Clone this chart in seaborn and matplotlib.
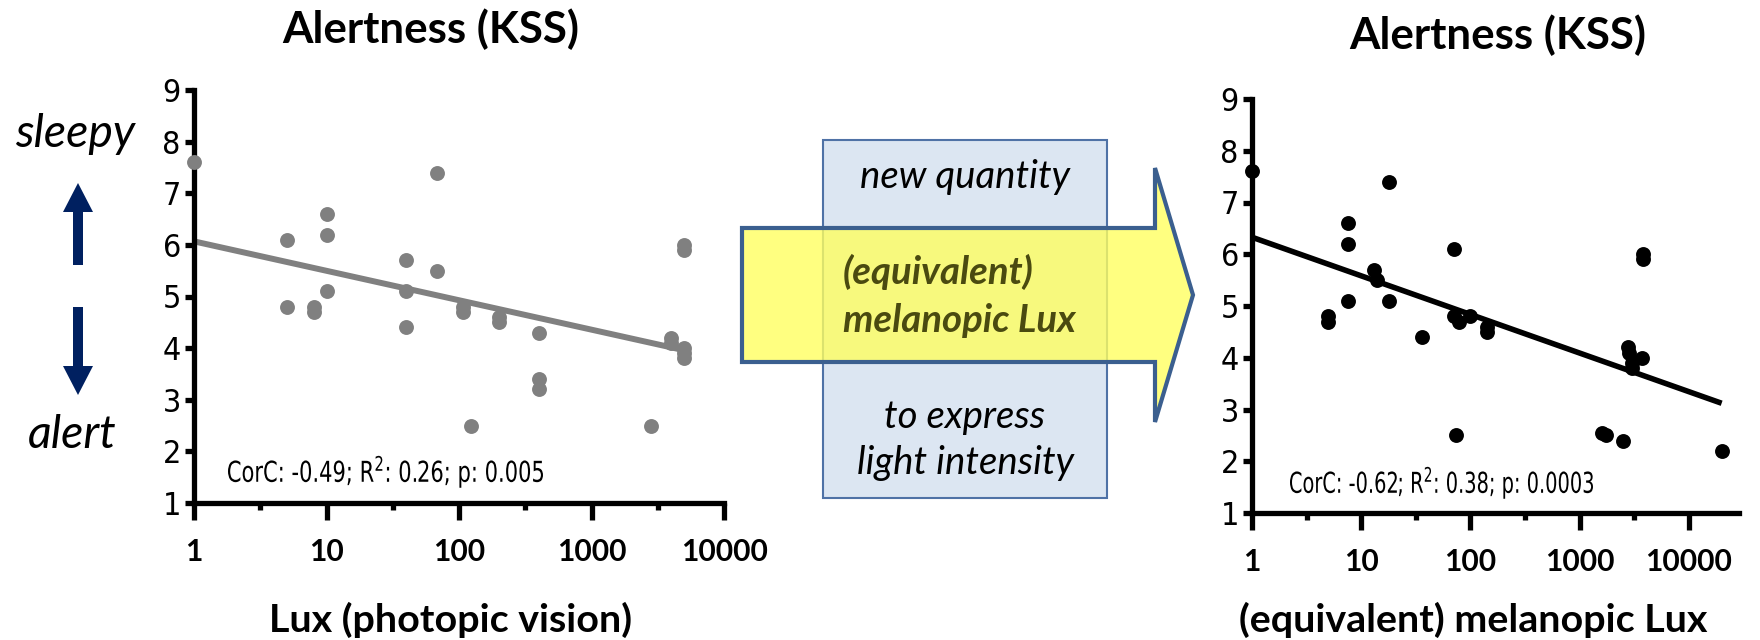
import matplotlib
matplotlib.use("Agg")
import matplotlib.pyplot as plt
from matplotlib.patches import Polygon, Rectangle, PathPatch
from matplotlib.textpath import TextPath
from matplotlib.font_manager import FontProperties
from matplotlib.transforms import Affine2D
from matplotlib.ticker import FixedLocator, NullFormatter
import seaborn as sns
import pandas as pd

# Data
photopic_lux = [1, 5, 5, 8, 8, 10, 10, 10, 40, 40, 40, 68, 68, 108, 108, 123,
                200, 200, 400, 400, 400, 2830, 4000, 4000, 5000, 5000, 5000, 5000, 5000]
kss_photopic = [7.6, 6.1, 4.8, 4.8, 4.7, 6.6, 6.2, 5.1, 5.7, 5.1, 4.4, 7.4, 5.5, 4.8, 4.7, 2.5,
                4.6, 4.5, 4.3, 3.4, 3.2, 2.5, 4.2, 4.1, 6.0, 5.9, 4.0, 3.9, 3.8]

melanopic_lux = [1, 5, 5, 7.5, 7.5, 7.5, 13, 14, 18, 18, 36, 71, 71, 74, 79, 99, 141, 141,
                 1600, 1760, 2500, 2800, 2850, 3000, 3050, 3750, 3800, 3800, 20000]
kss_melanopic = [7.6, 4.8, 4.7, 6.6, 6.2, 5.1, 5.7, 5.5, 7.4, 5.1, 4.4, 6.1, 4.8, 2.5, 4.7, 4.8, 4.6, 4.5,
                 2.55, 2.5, 2.4, 4.2, 4.1, 3.9, 3.8, 4.0, 6.0, 5.9, 2.2]

lux_ticks = [1, 10, 100, 1000, 10000]
lux_tick_labels = ["1", "10", "100", "1000", "10000"]
kss_ticks = [1, 2, 3, 4, 5, 6, 7, 8, 9]

stats_left = "CorC: -0.49; R$^2$: 0.26; p: 0.005"
stats_right = "CorC: -0.62; R$^2$: 0.38; p: 0.0003"

left_df = pd.DataFrame({"lux": photopic_lux, "kss": kss_photopic})
right_df = pd.DataFrame({"lux": melanopic_lux, "kss": kss_melanopic})

sns.set_style("ticks")
# narrow sans for the numbers (GraphPad style)
plt.rcParams["font.family"] = ["Liberation Sans Narrow", "DejaVu Sans"]
plt.rcParams["font.stretch"] = "condensed"
plt.rcParams["mathtext.fontset"] = "dejavusans"
for key in ["text.color", "axes.edgecolor", "axes.labelcolor", "xtick.color", "ytick.color"]:
    plt.rcParams[key] = "black"

W, H = 1760, 640
fig = plt.figure(figsize=(W / 100, H / 100), dpi=100)


def px(x, y):
    # pixel position (from top-left) -> figure fraction
    return (x / W, 1 - y / H)


def fit_width(txt, target):
    # rescale a text so its rendered width matches the reference width in pixels
    bb = txt.get_window_extent(renderer=fig.canvas.get_renderer())
    txt.set_fontsize(txt.get_fontsize() * target / bb.width)
    return txt.get_fontsize()


def narrow_text(s, x, y, width, cap=21):
    # tall, horizontally squeezed text (like Arial Narrow) drawn as a path
    prop = FontProperties(family="DejaVu Sans", stretch="condensed")
    tp = TextPath((0, 0), s, size=1, prop=prop)
    ext = tp.get_extents()
    em = cap / 0.73
    sx = width / ext.width
    tr = Affine2D().translate(-ext.x0, 0).scale(sx, em).translate(x, H - y)
    fig.add_artist(PathPatch(tp, transform=tr, facecolor="black", lw=0))


def style_axis(ax, xmax):
    ax.set_xscale("log")
    ax.set_xlim(1, xmax)
    ax.set_ylim(1, 9)
    sns.despine(ax=ax)
    for s in ["left", "bottom"]:
        ax.spines[s].set_linewidth(3.8)
        ax.spines[s].set_color("black")
        ax.spines[s].set_capstyle("projecting")
    ax.xaxis.set_major_locator(FixedLocator(lux_ticks))
    minors = [10 ** (k + 0.5) for k in range(5) if 10 ** (k + 0.5) < xmax]
    ax.xaxis.set_minor_locator(FixedLocator(minors))
    ax.xaxis.set_minor_formatter(NullFormatter())
    ax.set_yticks(kss_ticks)
    ax.tick_params(axis="x", which="major", length=12, width=3.8, pad=13, color="black")
    ax.tick_params(axis="x", which="minor", length=5, width=3.8, color="black")
    ax.tick_params(axis="y", length=6.5, width=3.8, pad=3, labelsize=23, color="black",
                   labelcolor="black")
    ax.set_xlabel("")
    ax.set_ylabel("")


# left panel: photopic lux
ax1 = fig.add_axes([194 / W, 1 - 503 / H, 530 / W, 413 / H])
sns.regplot(data=left_df, x="lux", y="kss", logx=True, ci=None, ax=ax1, color="#808080",
            scatter_kws={"s": 115, "clip_on": False, "linewidths": 0, "alpha": 1, "zorder": 3},
            line_kws={"lw": 4.3, "solid_capstyle": "butt"})
style_axis(ax1, 10000)

# right panel: melanopic lux
ax2 = fig.add_axes([1252 / W, 1 - 513 / H, 487 / W, 414 / H])
sns.regplot(data=right_df, x="lux", y="kss", logx=True, ci=None, ax=ax2, color="black",
            scatter_kws={"s": 115, "clip_on": False, "linewidths": 0, "alpha": 1, "zorder": 3},
            line_kws={"lw": 4, "solid_capstyle": "butt"})
style_axis(ax2, 10 ** 4.46)

lato = dict(fontfamily="Lato", fontstretch="normal", color="black")

# x tick labels sized so "1000" is ~70 px wide
probe = fig.text(0, 0, "1000", fontweight="bold", fontsize=20, **lato)
tick_size = fit_width(probe, 70)
probe.remove()
for ax in (ax1, ax2):
    ax.set_xticklabels(lux_tick_labels, fontweight="bold", fontsize=tick_size, **lato)

# titles
t1 = ax1.set_title("Alertness (KSS)", fontweight="bold", fontsize=30,
                   x=(431 - 194) / 530, pad=34, **lato)
title_size = fit_width(t1, 297)
ax2.set_title("Alertness (KSS)", fontweight="bold", fontsize=title_size,
              x=(1498 - 1252) / 487, pad=36, **lato)

# fit statistics
narrow_text(stats_left, 228, 482, 315)
narrow_text(stats_right, 1290, 493, 303)

# axis titles
xl = fig.text(*px(451, 632), "Lux (photopic vision)", ha="center", va="baseline",
              fontweight="bold", fontsize=26, **lato)
xlabel_size = fit_width(xl, 363)
fig.text(*px(1473, 632), "(equivalent) melanopic Lux", ha="center", va="baseline",
         fontweight="bold", fontsize=xlabel_size, **lato)

# sleepy / alert side labels with arrows
sl = fig.text(*px(75, 147), "sleepy", ha="center", va="baseline", fontstyle="italic",
              fontsize=30, **lato)
side_size = fit_width(sl, 120)
fig.text(*px(72, 448), "alert", ha="center", va="baseline", fontstyle="italic",
         fontsize=side_size, **lato)
navy = "#002060"
up = [(73, 265), (73, 212), (63, 212), (78, 183), (93, 212), (83, 212), (83, 265)]
down = [(73, 307), (73, 366), (63, 366), (78, 395), (93, 366), (83, 366), (83, 307)]
for shape in (up, down):
    fig.patches.append(Polygon([px(*p) for p in shape], closed=True, transform=fig.transFigure,
                               facecolor=navy, edgecolor="none"))

# central box and arrow
x0, y0 = px(823, 498)
x1, y1 = px(1107, 140)
fig.patches.append(Rectangle((x0, y0), x1 - x0, y1 - y0, transform=fig.transFigure,
                             facecolor="#dce6f2", edgecolor="#4f72a6", lw=1.5, zorder=1))
arrow_pts = [(742, 228), (1155, 228), (1155, 168), (1193, 295), (1155, 422), (1155, 362), (742, 362)]
fig.patches.append(Polygon([px(*p) for p in arrow_pts], closed=True, transform=fig.transFigure,
                           facecolor="#ffff60", alpha=0.8, edgecolor="none", zorder=2))
fig.patches.append(Polygon([px(*p) for p in arrow_pts], closed=True, transform=fig.transFigure,
                           facecolor="none", edgecolor="#3b5f8f", lw=3, joinstyle="miter", zorder=3))

nq = fig.text(*px(965, 177), "new quantity", ha="center", va="center", fontstyle="italic",
              fontsize=26, **lato)
box_size = fit_width(nq, 210)
box_txt = dict(fontstyle="italic", fontsize=box_size, fontfamily="Lato", fontstretch="normal")
olive = "#4a4a10"
fig.text(*px(843, 272), "(equivalent)", ha="left", va="center", fontweight="bold",
         color=olive, **box_txt)
fig.text(*px(843, 320), "melanopic Lux", ha="left", va="center", fontweight="bold",
         color=olive, **box_txt)
fig.text(*px(965, 417), "to express", ha="center", va="center", color="black", **box_txt)
fig.text(*px(965, 463), "light intensity", ha="center", va="center", color="black", **box_txt)

fig.savefig("out.png", dpi=100)
